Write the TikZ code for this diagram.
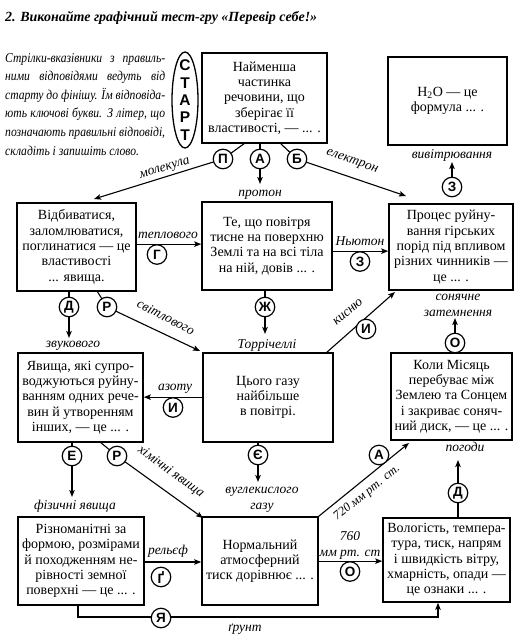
\documentclass[tikz,border=0pt]{standalone}
\usepackage{fontspec}
\setmainfont{Liberation Serif}
\setsansfont{Liberation Sans}
\usetikzlibrary{arrows.meta,shapes.geometric}
\pgfdeclarelayer{bg}
\pgfsetlayers{bg,main}
\newcommand\bodyfont{\fontsize{14}{15.3}\selectfont}
\newcommand\lblfont{\itshape\fontsize{13.5}{16}\selectfont}
\newcommand\instrline[1]{\scalebox{0.86}[1]{\makebox[186pt][s]{#1}}}
\begin{document}
\begin{tikzpicture}[x=1pt,y=-1pt,
  box/.style={draw, line width=1.6pt, align=center, inner sep=0pt, font=\bodyfont},
  lbl/.style={font=\lblfont, inner sep=0pt, align=center},
  circ/.style={circle, draw, line width=1.2pt, fill=white, minimum size=19.5pt, inner sep=0pt, font=\sffamily\bfseries\fontsize{13.5}{14}\selectfont},
  conn/.style={line width=1.1pt},
  arr/.style={conn, -{Stealth[length=7pt,width=5.5pt,inset=1.5pt]}}]
\useasboundingbox (0,0) rectangle (532,638);

% title and instructions
\node[anchor=west, inner sep=0pt, font=\bfseries\itshape\fontsize{14}{16}\selectfont] (title) at (5,18) {2. Виконайте графічний тест-гру «Перевір себе!»};
\node[anchor=north west, inner sep=0pt, align=left, font=\itshape\fontsize{13.5}{18.6}\selectfont] (instr) at (5,53)
 {\instrline{Стрілки-вказівники з правиль-}\\
  \instrline{ними відповідями ведуть від}\\
  \instrline{старту до фінішу. Їм відповіда-}\\
  \instrline{ють ключові букви. З літер, що}\\
  \instrline{позначають правильні відповіді,}\\
  \scalebox{0.86}[1]{складіть і запишіть слово.}};
\node[ellipse, draw, line width=1.3pt, minimum width=26pt, minimum height=96pt, inner sep=0pt] (start) at (185,100) {};
\node[inner sep=0pt, align=center, font=\sffamily\bfseries\fontsize{15.5}{17.3}\selectfont] (starttxt) at (185,100) {С\\Т\\А\\Р\\Т};

% boxes
\node[box, minimum width=125pt, minimum height=90pt] (b1) at (264.5,98) {Найменша\\частинка\\речовини, що\\зберігає її\\властивості, — ... .};
\node[box, minimum width=119pt, minimum height=88pt] (b2) at (447.5,101) {H\textsubscript{2}O — це\\формула ... .};
\node[box, minimum width=119pt, minimum height=88pt] (b3) at (76.5,247) {Відбиватися,\\заломлюватися,\\поглинатися — це\\властивості\\... явища.};
\node[box, minimum width=130pt, minimum height=88pt] (b4) at (267,246) {Те, що повітря\\тисне на поверхню\\Землі та на всі тіла\\на ній, довів ... .};
\node[box, minimum width=124pt, minimum height=86pt] (b5) at (451,247) {Процес руйну-\\вання гірських\\порід під впливом\\різних чинників —\\це ... .};
\node[box, minimum width=125pt, minimum height=89pt] (b6) at (80.5,397.5) {Явища, які супро-\\воджуються руйну-\\ванням одних рече-\\вин й утворенням\\інших, — це ... .};
\node[box, minimum width=130pt, minimum height=89pt] (b7) at (268,397.5) {Цього газу\\найбільше\\в повітрі.};
\node[box, minimum width=121pt, minimum height=87pt] (b8) at (451.5,396.5) {Коли Місяць\\перебуває між\\Землею та Сонцем\\і закриває соняч-\\ний диск, — це ... .};
\node[box, minimum width=126pt, minimum height=88pt] (b9) at (81,561) {Різноманітні за\\формою, розмірами\\й походженням не-\\рівності земної\\поверхні — це ... .};
\node[box, minimum width=116pt, minimum height=88pt] (b10) at (260,561) {Нормальний\\атмосферний\\тиск дорівнює ... .};
\node[box, minimum width=127pt, minimum height=84pt] (b11) at (446.5,560) {Вологість, темпера-\\тура, тиск, напрям\\і швидкість вітру,\\хмарність, опади —\\це ознаки ... .};

% letter circles
\node[circ] (cP) at (223,159) {П};
\node[circ] (cA) at (260,159) {А};
\node[circ] (cB) at (297,159) {Б};
\node[circ] (cZ1) at (452,187) {З};
\node[circ] (cG) at (157,254.5) {Г};
\node[circ] (cZ2) at (360,261.5) {З};
\node[circ] (cD1) at (69,307) {Д};
\node[circ] (cR1) at (107,307) {Р};
\node[circ] (cZh) at (265,307) {Ж};
\node[circ] (cI1) at (366,329) {И};
\node[circ] (cO1) at (455,343) {О};
\node[circ] (cI2) at (173,407.5) {И};
\node[circ] (cE) at (72,456) {Е};
\node[circ] (cR2) at (117,456) {Р};
\node[circ] (cYe) at (258,455) {Є};
\node[circ] (cA2) at (379,455) {А};
\node[circ] (cD2) at (458,493) {Д};
\node[circ] (cGG) at (161,577) {Ґ};
\node[circ] (cO2) at (350,571.5) {О};
\node[circ] (cYa) at (161,618) {Я};

% free ends
\coordinate (sP) at (245,143);
\coordinate (tP) at (94,199);
\coordinate (tA) at (260,184);
\coordinate (sB) at (280,143);
\coordinate (tB) at (406,196);
\coordinate (tZ1) at (452,162);
\coordinate (tZh) at (265,334);
\coordinate (tD1) at (69,338);
\coordinate (sR1) at (97,291);
\coordinate (tR1) at (200,351);
\coordinate (sI1) at (326,353);
\coordinate (tI1) at (395,292);
\coordinate (tO1) at (455,318);
\coordinate (tE) at (72,497);
\coordinate (sR2) at (100,442);
\coordinate (tR2) at (203,518);
\coordinate (tYe) at (258,482);
\coordinate (tA2) at (409,443);
\coordinate (tD2) at (458,460);
\coordinate (lnGG) at (170,562);
\coordinate (yaL) at (78,617);
\coordinate (yaR) at (438,617);

\begin{pgfonlayer}{bg}
\draw[arr] (sP) -- (cP.center) -- (tP);
\draw[arr] (cA |- b1.south) -- (tA);
\draw[arr] (sB) -- (cB.center) -- (tB);
\draw[arr] (cZ1.north) -- (tZ1);
\draw[arr] (b3.east |- cG.north) -- (b4.west |- cG.north);
\draw[arr] (b4.east |- cZ2.north) -- (b5.west |- cZ2.north);
\draw[arr] (cZh |- b4.south) -- (tZh);
\draw[arr] (cD1 |- b3.south) -- (tD1);
\draw[arr] (sR1) -- (cR1.center) -- (tR1);
\draw[arr] (sI1) -- (tI1);
\draw[arr] (cO1.north) -- (tO1);
\draw[arr] (b7.west |- cI2.north) -- (b6.east |- cI2.north);
\draw[arr] (cE |- b6.south) -- (tE);
\draw[arr] (sR2) -- (cR2.center) -- (tR2);
\draw[arr] (cYe |- b7.south) -- (tYe);
\draw[arr] (b10.north east) -- (tA2);
\draw[arr] (cD2 |- b11.north) -- (tD2);
\draw[arr] (b9.east |- lnGG) -- (b10.west |- lnGG);
\draw[arr] (b10.east |- cO2.north) -- (b11.west |- cO2.north);
\draw[arr] (yaL |- b9.south) -- (yaL) -- (yaR) -- (yaR |- b11.south);
\end{pgfonlayer}

% labels
\node[lbl, rotate=17] (lmol) at (165,169) {молекула};
\node[lbl] (lprot) at (260,195) {протон};
\node[lbl, rotate=-19] (lel) at (352,162) {електрон};
\node[lbl] (lviv) at (452,155) {вивітрювання};
\node[lbl] (ltep) at (168,235) {теплового};
\node[lbl] (lnew) at (360,241) {Ньютон};
\node[lbl, rotate=-27] (lsv) at (166,317) {світлового};
\node[lbl] (lzv) at (73,346) {звукового};
\node[lbl] (ltor) at (267,345) {Торрічеллі};
\node[lbl, rotate=41] (lkys) at (348,312) {кисню};
\node[lbl] (lson) at (458,305) {сонячне\\затемнення};
\node[lbl] (laz) at (175,389) {азоту};
\node[lbl] (lvug) at (262,500) {вуглекислого\\газу};
\node[lbl] (lfiz) at (75,506) {фізичні явища};
\node[lbl, rotate=-36] (lhim) at (171,472) {хімічні явища};
\node[lbl, rotate=39, font=\itshape\fontsize{12.5}{15}\selectfont] (l720) at (367,493) {720 мм рт. ст.};
\node[lbl] (lpog) at (465,447) {погоди};
\node[lbl] (lrel) at (168,551) {рельєф};
\node[lbl] (l760) at (350,545) {760\\мм рт. ст};
\node[lbl] (lgr) at (245,629) {ґрунт};
\end{tikzpicture}
\end{document}
